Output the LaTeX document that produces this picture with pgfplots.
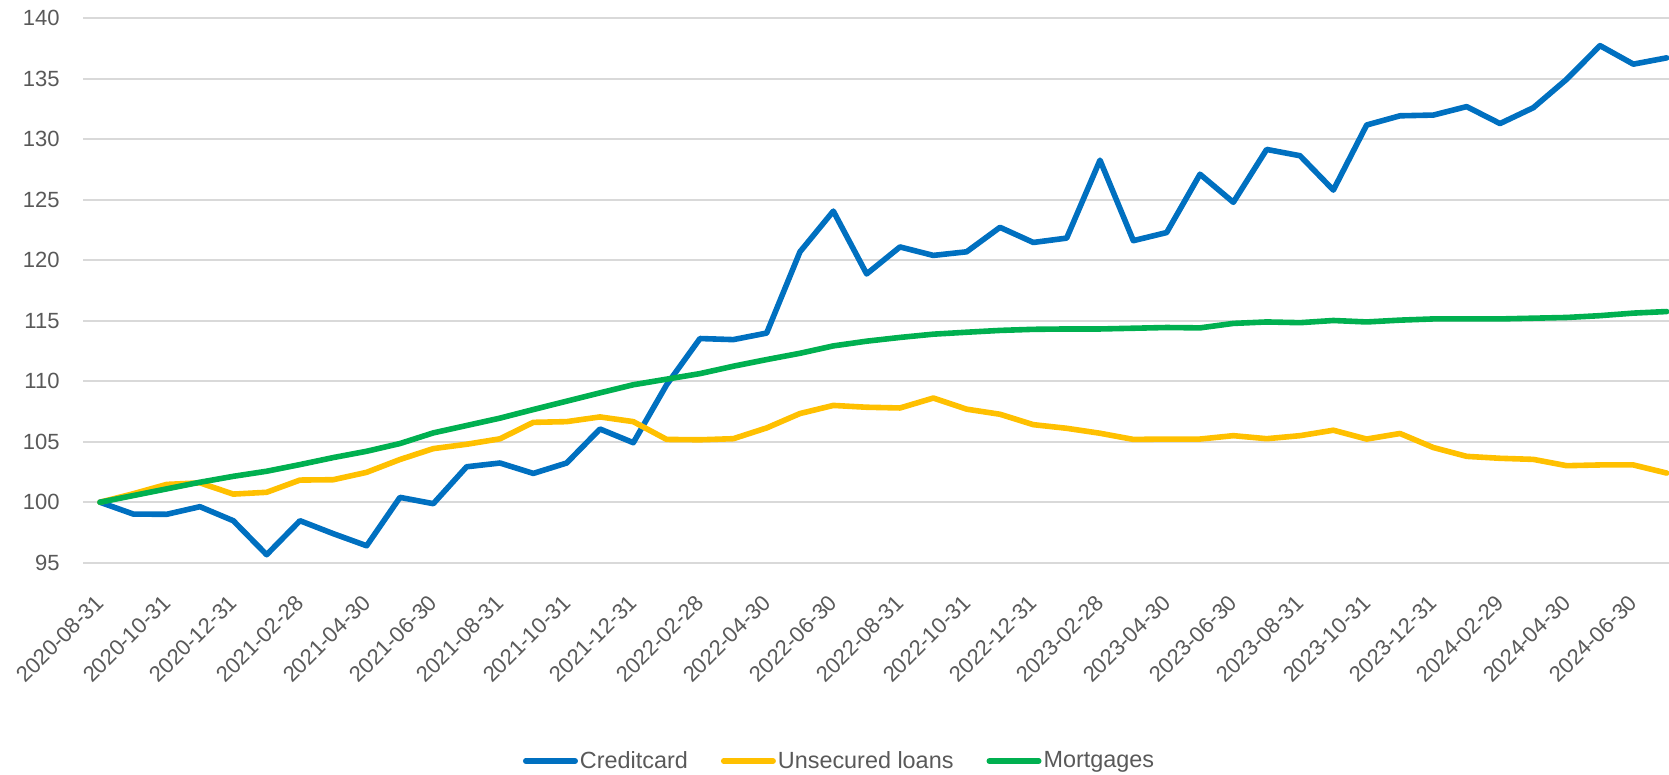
\documentclass[border=0pt]{standalone}
\usepackage{pgfplots}
\pgfplotsset{compat=1.18}
\usepackage{fontspec}
\setmainfont{Liberation Sans}
\usetikzlibrary{calc}
\definecolor{cBlue}{HTML}{0070C0}
\definecolor{cYel}{HTML}{FFC000}
\definecolor{cGreen}{HTML}{00B050}
\definecolor{cGrid}{HTML}{D9D9D9}
\definecolor{cText}{HTML}{595959}

\pgfplotstableread{
i credit unsecured mortgages
0 100 100 100
1 99.02 100.7 100.55
2 99.0 101.47 101.1
3 99.63 101.6 101.65
4 98.47 100.67 102.14
5 95.66 100.82 102.56
6 98.47 101.83 103.11
7 97.4 101.86 103.69
8 96.4 102.47 104.21
9 100.4 103.53 104.85
10 99.88 104.43 105.73
11 102.93 104.79 106.34
12 103.24 105.24 106.95
13 102.38 106.6 107.66
14 103.24 106.66 108.35
15 106.05 107.05 109.04
16 104.92 106.66 109.71
17 109.71 105.19 110.17
18 113.53 105.16 110.63
19 113.44 105.25 111.24
20 113.98 106.14 111.79
21 120.7 107.33 112.31
22 124.06 108.0 112.92
23 118.87 107.85 113.31
24 121.1 107.79 113.62
25 120.4 108.61 113.89
26 120.7 107.69 114.05
27 122.72 107.27 114.2
28 121.47 106.41 114.29
29 121.83 106.11 114.32
30 128.27 105.7 114.32
31 121.62 105.19 114.38
32 122.29 105.22 114.44
33 127.11 105.22 114.41
34 124.79 105.5 114.78
35 129.16 105.25 114.9
36 128.64 105.5 114.84
37 125.8 105.95 115.02
38 131.18 105.22 114.9
39 131.94 105.68 115.05
40 132.0 104.52 115.15
41 132.7 103.79 115.15
42 131.3 103.63 115.15
43 132.61 103.54 115.21
44 134.96 103.02 115.27
45 137.74 103.08 115.42
46 136.21 103.08 115.63
47 136.73 102.41 115.76
}\datatable

\begin{document}
\begin{tikzpicture}
\begin{axis}[name=ax, scale only axis, width=792.85pt, height=272.2pt,
 xmin=-0.5, xmax=47.07, ymin=95, ymax=140,
 ytick={95,100,...,140}, xtick={0,2,...,46},
 xticklabels={2020-08-31,2020-10-31,2020-12-31,2021-02-28,2021-04-30,2021-06-30,2021-08-31,2021-10-31,2021-12-31,2022-02-28,2022-04-30,2022-06-30,2022-08-31,2022-10-31,2022-12-31,2023-02-28,2023-04-30,2023-06-30,2023-08-31,2023-10-31,2023-12-31,2024-02-29,2024-04-30,2024-06-30},
 ymajorgrids, grid style={cGrid, line width=1pt},
 axis line style={draw=none}, major tick length=0pt,
 tick label style={font=\fontsize{11}{12}\selectfont, text=cText},
 /pgf/number format/assume math mode=true,
 yticklabel style={anchor=east, inner sep=0pt, xshift=-11.7pt},
 xticklabel style={inner sep=0pt, xshift=0pt, yshift=-18pt, rotate=45, anchor=east},
 every axis plot/.append style={line width=2.8pt, line join=round, line cap=round, mark=none},
 legend columns=-1,
 legend cell align=left,
 legend image code/.code={\draw[#1] (1.4pt,0pt) -- (26.1pt,0pt);},
 legend style={at={(0.4769,-0.3643)}, anchor=center, draw=none, fill=none,
   font=\fontsize{11.7}{14}\selectfont, text=cText,
   inner xsep=0pt, nodes={inner xsep=1pt, inner ysep=1pt},
   /tikz/every even column/.append style={column sep=15.5pt}},
]
\addplot[cBlue] table[x=i, y=credit] {\datatable};
\addlegendentry{Creditcard}
\addplot[cYel] table[x=i, y=unsecured] {\datatable};
\addlegendentry{Unsecured loans}
\addplot[cGreen] table[x=i, y=mortgages] {\datatable};
\addlegendentry{Mortgages}
\end{axis}
\pgfresetboundingbox
\path ($(ax.south west)+(-41.65pt,-106.15pt)$) rectangle ($(ax.north east)+(0pt,9.15pt)$);
\end{tikzpicture}
\end{document}
